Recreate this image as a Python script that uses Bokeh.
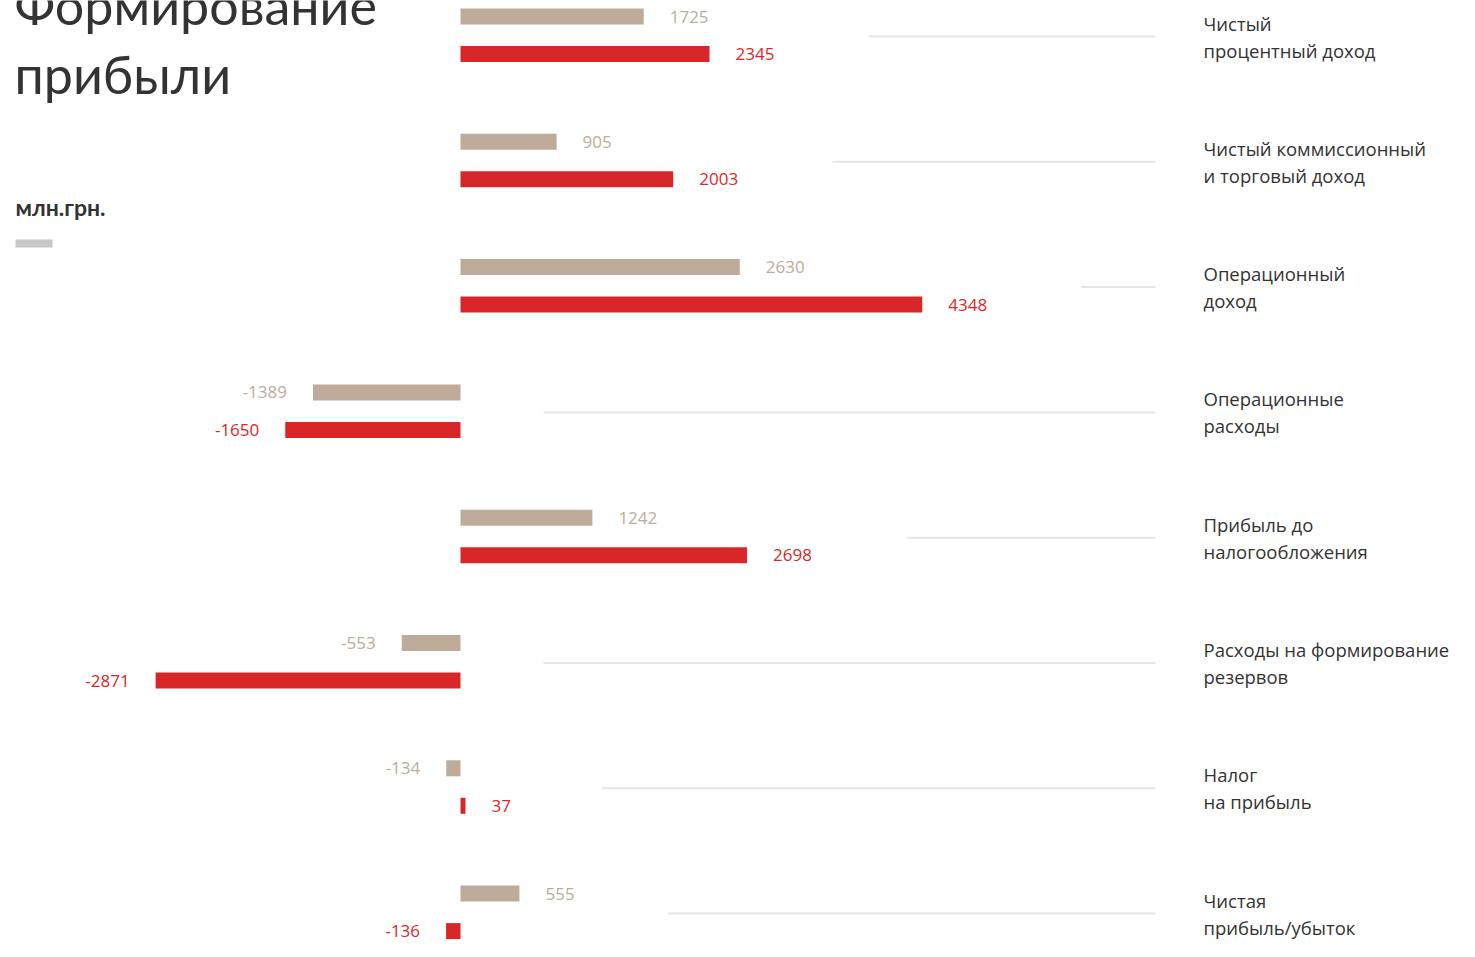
from bokeh.plotting import figure
from bokeh.models import Range1d, ColumnDataSource
from bokeh.core.properties import value
from bokeh.embed import file_html
from bokeh.resources import INLINE

# ---- data ----
categories = [
    "Чистый\nпроцентный доход",
    "Чистый коммиссионный\nи торговый доход",
    "Операционный\nдоход",
    "Операционные\nрасходы",
    "Прибыль до\nналогообложения",
    "Расходы на формирование\nрезервов",
    "Налог\nна прибыль",
    "Чистая\nприбыль/убыток",
]
prev_values = [1725, 905, 2630, -1389, 1242, -553, -134, 555]
curr_values = [2345, 2003, 4348, -1650, 2698, -2871, 37, -136]
title_lines = ["Формирование", "прибыли"]
unit_label = "млн.грн."

# ---- layout constants (pixels of the figure) ----
W, H = 1459, 941
ZERO_X = 460          # x of value 0
PXU = 0.1062          # px per value unit
ROW0_Y = 36           # y of first row centre line
ROW_STEP = 125.3

def xd(px):  # figure x -> data x
    return (px - ZERO_X) / PXU

def yd(py):  # figure y -> data y (row index units)
    return (py - ROW0_Y) / ROW_STEP

TAN = "#bfab99"
RED = "#d92729"
GRID = "#e6e6e6"
DARK = "#333333"
LFONT = value("Open Sans")
TFONT = value("Lato")

p = figure(width=W, height=H, output_backend="svg", toolbar_location=None,
           x_range=Range1d(xd(0), xd(W)),
           y_range=Range1d(yd(H), yd(0)),
           min_border=0)
p.axis.visible = False
p.grid.visible = False
p.outline_line_color = None
p.background_fill_color = "white"

n = len(categories)
rows = list(range(n))
TAN_OFF = -20 / ROW_STEP
RED_OFF = 17.5 / ROW_STEP
BAR_H = 16 / ROW_STEP

# gridlines: start a bit after the right-most bar/label of each row
gx0 = []
for a, b in zip(prev_values, curr_values):
    m = max(a, b, 0)
    if m > 0:
        start_px = m * PXU + 26 + len(str(m)) * 10.8 + 90
    else:
        start_px = 83
    gx0.append(start_px / PXU)
p.segment(x0=gx0, y0=rows, x1=[xd(1155)] * n, y1=rows, line_color=GRID, line_width=2)

# bars
y_prev = [r + TAN_OFF for r in rows]
y_curr = [r + RED_OFF for r in rows]
curr_draw = [v if abs(v) * PXU >= 5 else (5 / PXU if v > 0 else -5 / PXU) for v in curr_values]
p.hbar(y=y_prev, left=0, right=prev_values, height=BAR_H, fill_color=TAN, line_color=None)
p.hbar(y=y_curr, left=0, right=curr_draw, height=BAR_H, fill_color=RED, line_color=None)

# value labels
def lab_src(vals, draw, ys):
    return ColumnDataSource(dict(
        x=draw, y=ys, t=[str(v) for v in vals],
        xo=[26 if v >= 0 else -26 for v in vals],
        al=["left" if v >= 0 else "right" for v in vals]))

p.text(x="x", y="y", text="t", x_offset="xo", text_align="al", source=lab_src(prev_values, prev_values, y_prev),
       text_color=TAN, text_font=LFONT, text_font_size="17px", text_baseline="middle")
p.text(x="x", y="y", text="t", x_offset="xo", text_align="al", source=lab_src(curr_values, curr_draw, y_curr),
       text_color=RED, text_font=LFONT, text_font_size="17px", text_baseline="middle")

# category labels (two lines each)
l1 = [c.split("\n")[0] for c in categories]
l2 = [c.split("\n")[1] for c in categories]
p.text(x=[xd(1203)] * n, y=[r + yd(ROW0_Y - 13.5) for r in rows], text=l1, text_color=DARK,
       text_font=LFONT, text_font_size="18.5px", text_baseline="middle")
p.text(x=[xd(1203)] * n, y=[r + yd(ROW0_Y + 13.5) for r in rows], text=l2, text_color=DARK,
       text_font=LFONT, text_font_size="18.5px", text_baseline="middle")

# title and unit
p.text(x=[xd(14), xd(14)], y=[yd(4), yd(73)], text=title_lines, text_color=DARK,
       text_font=TFONT, text_font_size="52px", text_baseline="alphabetic")
p.text(x=[xd(15)], y=[yd(206)], text=[unit_label], text_color=DARK, text_font=TFONT,
       text_font_size="23px", text_font_style="bold", text_baseline="middle")
# legend swatch
p.quad(left=[xd(15)], right=[xd(52)], top=[yd(239)], bottom=[yd(247)], fill_color="#c8c8c8", line_color=None)

open("out.html", "w").write(file_html(p, INLINE))
